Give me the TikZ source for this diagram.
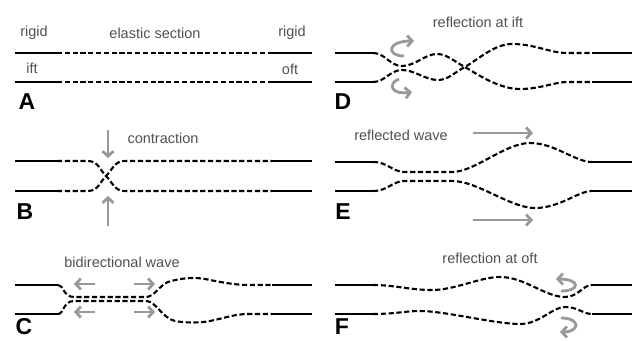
\documentclass[tikz,border=0pt]{standalone}
\usepackage{fontspec}
\setmainfont{Liberation Sans}
\usetikzlibrary{arrows.meta}
\definecolor{txtgray}{HTML}{505050}
\definecolor{arrgray}{HTML}{999999}
\tikzset{
  rigidline/.style={line width=2.8pt, black},
  elastic/.style={line width=2.1pt, black, dash pattern=on 5.2pt off 2.6pt},
  grayarrow/.style={line width=2.8pt, arrgray, -{Straight Barb[length=5pt,width=11pt]}},
  lbl/.style={text=txtgray, font=\fontsize{14.5}{15}\selectfont, inner sep=0pt},
  panel/.style={font=\fontsize{23}{23}\selectfont\bfseries, inner sep=0pt, text=black}
}
\begin{document}
\begin{tikzpicture}[x=1pt,y=-1pt]
\useasboundingbox (0,0) rectangle (637,340);
% ---------- Panel A ----------
\draw[rigidline] (15,53) -- (57,53) (272,53) -- (312,53);
\draw[rigidline] (15,82) -- (57,82) (272,82) -- (312,82);
\draw[elastic] (57,53) -- (272,53);
\draw[elastic] (57,82) -- (272,82);
\node[lbl] (rigidL) at (34,33) {rigid};
\node[lbl] (elsec) at (155,33) {elastic section};
\node[lbl] (rigidR) at (292,33) {rigid};
\node[lbl] (ift) at (32,68) {ift};
\node[lbl] (oft) at (290,69) {oft};
\node[panel] (pA) at (27,102) {A};
% ---------- Panel B ----------
\draw[rigidline] (15,161) -- (57,161) (272,161) -- (312,161);
\draw[rigidline] (15,191) -- (57,191) (272,191) -- (312,191);
\draw[elastic] (57,161) -- (88,161) .. controls (98,161) and (100,170) .. (106,176) .. controls (112,182) and (115,191) .. (124,191) -- (272,191);
\draw[elastic] (57,191) -- (88,191) .. controls (98,191) and (100,182) .. (106,176) .. controls (112,170) and (115,161) .. (124,161) -- (272,161);
\coordinate (bt1) at (108,130); \coordinate (bt2) at (108,158);
\coordinate (bb1) at (108,226); \coordinate (bb2) at (108,196);
\draw[grayarrow] (bt1) -- (bt2);
\draw[grayarrow] (bb1) -- (bb2);
\node[lbl] (contr) at (163,138) {contraction};
\node[panel] (pB) at (25,212) {B};
% ---------- Panel C ----------
\draw[rigidline] (15,285) -- (58,285) (272,285) -- (312,285);
\draw[rigidline] (15,314) -- (58,314) (272,314) -- (312,314);
\draw[elastic] (58,285) .. controls (64,285) and (63,297) .. (74,297) -- (146,297) .. controls (154,297) and (160,285) .. (168,282) .. controls (180,278) and (195,277) .. (205,279) .. controls (220,282) and (235,285) .. (248,285) -- (272,285);
\draw[elastic] (58,314) .. controls (64,314) and (63,301) .. (74,301) -- (146,301) .. controls (156,301) and (162,318) .. (175,321) .. controls (185,323) and (200,323) .. (210,321) .. controls (225,318) and (235,314) .. (248,314) -- (272,314);
\coordinate (cl1) at (95,284); \coordinate (cl2) at (74,284);
\coordinate (cl3) at (95,312); \coordinate (cl4) at (74,312);
\coordinate (cr1) at (134,284); \coordinate (cr2) at (155,284);
\coordinate (cr3) at (134,312); \coordinate (cr4) at (155,312);
\draw[grayarrow] (cl1) -- (cl2);
\draw[grayarrow] (cl3) -- (cl4);
\draw[grayarrow] (cr1) -- (cr2);
\draw[grayarrow] (cr3) -- (cr4);
\node[lbl] (bidir) at (122,262) {bidirectional wave};
\node[panel] (pC) at (24,327) {C};
% ---------- Panel D ----------
\draw[rigidline] (335,53) -- (373,53) (592,53) -- (632,53);
\draw[rigidline] (335,82) -- (373,82) (592,82) -- (632,82);
\draw[elastic] (373,53) .. controls (385,53) and (390,66) .. (402,66) .. controls (415,66) and (425,54) .. (437,54) .. controls (447,54) and (455,62) .. (465,67) .. controls (480,76) and (500,89) .. (520,89) .. controls (540,89) and (555,82) .. (567,82) -- (592,82);
\draw[elastic] (373,82) .. controls (385,82) and (390,70) .. (402,70) .. controls (415,70) and (425,80) .. (438,80) .. controls (448,80) and (455,72) .. (465,67) .. controls (480,58) and (495,44) .. (512,44) .. controls (535,44) and (550,53) .. (567,53) -- (592,53);
\coordinate (dt1) at (404,56); \coordinate (dt2) at (414,41);
\coordinate (db1) at (399,79); \coordinate (db2) at (412,92);
\draw[grayarrow] (dt1) .. controls (386,56) and (387,41) .. (dt2);
\draw[grayarrow] (db1) .. controls (388,83) and (390,95) .. (db2);
\node[lbl] (refift) at (478,22) {reflection at ift};
\node[panel] (pD) at (343,102) {D};
% ---------- Panel E ----------
\draw[rigidline] (335,162) -- (373,162) (592,162) -- (632,162);
\draw[rigidline] (335,191) -- (373,191) (592,191) -- (632,191);
\draw[elastic] (373,162) .. controls (388,162) and (392,172) .. (405,172) -- (452,172) .. controls (475,172) and (505,143) .. (530,143) .. controls (555,143) and (575,162) .. (592,162);
\draw[elastic] (373,191) .. controls (388,191) and (392,181) .. (405,181) -- (452,181) .. controls (478,181) and (510,208) .. (535,208) .. controls (560,208) and (578,191) .. (592,191);
\coordinate (et1) at (473,133); \coordinate (et2) at (533,133);
\coordinate (eb1) at (473,220); \coordinate (eb2) at (533,220);
\draw[grayarrow] (et1) -- (et2);
\draw[grayarrow] (eb1) -- (eb2);
\node[lbl] (refwave) at (401,135) {reflected wave};
\node[panel] (pE) at (343,212) {E};
% ---------- Panel F ----------
\draw[rigidline] (335,285) -- (373,285) (592,285) -- (632,285);
\draw[rigidline] (335,314) -- (373,314) (592,314) -- (632,314);
\draw[elastic] (373,285) .. controls (395,285) and (410,290) .. (432,290) .. controls (455,290) and (480,277) .. (500,277) .. controls (525,277) and (545,297) .. (565,297) .. controls (578,297) and (583,285) .. (592,285);
\draw[elastic] (373,314) .. controls (395,314) and (405,311) .. (420,311) .. controls (445,311) and (495,324) .. (520,324) .. controls (540,324) and (552,307) .. (565,307) .. controls (578,307) and (583,314) .. (592,314);
\coordinate (ft1) at (561,291); \coordinate (ft2) at (556,279);
\coordinate (fb1) at (561,318); \coordinate (fb2) at (560,332);
\draw[grayarrow] (ft1) .. controls (581,291) and (580,279) .. (ft2);
\draw[grayarrow] (fb1) .. controls (581,318) and (580,332) .. (fb2);
\node[lbl] (refoft) at (490,258) {reflection at oft};
\node[panel] (pF) at (342,327) {F};
\end{tikzpicture}
\end{document}
